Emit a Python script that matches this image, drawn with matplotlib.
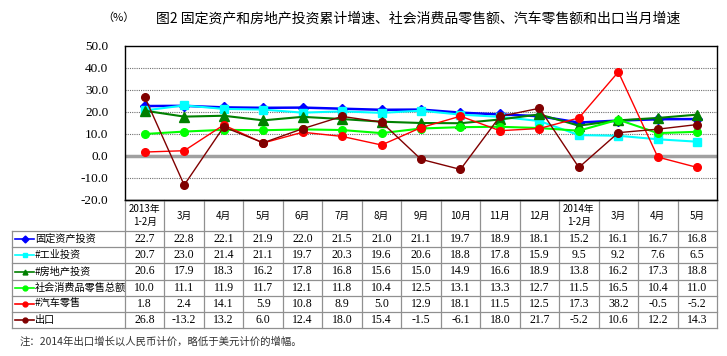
import numpy as np
import matplotlib.pyplot as plt

plt.rcParams['font.family'] = ['Noto Sans CJK SC', 'DejaVu Sans']

months = ['2013年\n1-2月', '3月', '4月', '5月', '6月', '7月', '8月', '9月',
          '10月', '11月', '12月', '2014年\n1-2月', '3月', '4月', '5月']

fixed_asset = [22.7, 22.8, 22.1, 21.9, 22.0, 21.5, 21.0, 21.1, 19.7, 18.9, 18.1, 15.2, 16.1, 16.7, 16.8]
industry = [20.7, 23.0, 21.4, 21.1, 19.7, 20.3, 19.6, 20.6, 18.8, 17.8, 15.9, 9.5, 9.2, 7.6, 6.5]
real_estate = [20.6, 17.9, 18.3, 16.2, 17.8, 16.8, 15.6, 15.0, 14.9, 16.6, 18.9, 13.8, 16.2, 17.3, 18.8]
retail = [10.0, 11.1, 11.9, 11.7, 12.1, 11.8, 10.4, 12.5, 13.1, 13.3, 12.7, 11.5, 16.5, 10.4, 11.0]
auto = [1.8, 2.4, 14.1, 5.9, 10.8, 8.9, 5.0, 12.9, 18.1, 11.5, 12.5, 17.3, 38.2, -0.5, -5.2]
export = [26.8, -13.2, 13.2, 6.0, 12.4, 18.0, 15.4, -1.5, -6.1, 18.0, 21.7, -5.2, 10.6, 12.2, 14.3]

series = [
    ('固定资产投资', fixed_asset, '#0000FF', 'D', 1.8, 5),
    ('#工业投资', industry, '#00FFFF', 's', 1.5, 6),
    ('#房地产投资', real_estate, '#008000', '^', 1.5, 7),
    ('社会消费品零售总额', retail, '#00FF00', 'o', 1.5, 5.5),
    ('#汽车零售', auto, '#FF0000', 'o', 1.0, 5.5),
    ('出口', export, '#800000', 'o', 1.0, 5.5),
]

W, H = 727, 356
fig = plt.figure(figsize=(W / 100, H / 100), dpi=100)

x0, x1, ytop, ybot = 125, 717, 46, 200
ax = fig.add_axes([x0 / W, 1 - ybot / H, (x1 - x0) / W, (ybot - ytop) / H])
idx = np.arange(len(months))
for name, vals, col, mk, lw, ms in series:
    ax.plot(idx, vals, color=col, lw=lw, marker=mk, ms=ms, markeredgecolor=col)
ax.set_xlim(-0.5, len(months) - 0.5)
ax.set_ylim(-20, 50)
ax.set_yticks(np.arange(-20, 51, 10))
ax.set_yticklabels(['%.1f' % v for v in np.arange(-20, 51, 10)],
                   family='Liberation Serif', fontsize=9.5)
ax.set_xticks([])
ax.tick_params(axis='y', length=0, pad=12)
for v in range(-10, 50, 10):
    if v:
        ax.axhline(v, color='#707070', lw=0.8, ls=(0, (1, 1)), zorder=0)
    else:
        ax.axhline(v, color='#A0A0A0', lw=2.5, zorder=0)
for s in ax.spines.values():
    s.set_color('black')
    s.set_linewidth(1.0)

# overlay in pixel coordinates for the table and titles
ov = fig.add_axes([0, 0, 1, 1])
ov.set_xlim(0, W)
ov.set_ylim(H, 0)
ov.axis('off')

ov.text(118, 18, '（%）', ha='center', va='center', fontsize=8)
ov.text(418, 18, '图2 固定资产和房地产投资累计增速、社会消费品零售额、汽车零售额和出口当月增速',
        ha='center', va='center', fontsize=10)

cw = (x1 - x0) / len(months)
hdr_bot = 231
rh = 16.2
tab_bot = hdr_bot + rh * len(series)
gc = '#909090'
for i, m in enumerate(months):
    ov.text(x0 + cw * (i + 0.5), (ybot + hdr_bot) / 2, m, ha='center', va='center',
            fontsize=7, linespacing=1.3)
for i in range(len(months) + 1):
    ov.plot([x0 + cw * i] * 2, [ybot, tab_bot], color=gc, lw=0.9)
ov.plot([12, 12], [hdr_bot, tab_bot], color=gc, lw=0.9)
ov.plot([x0, x1], [ybot, ybot], color='black', lw=1.0)
for r in range(len(series) + 1):
    ov.plot([12, x1], [hdr_bot + rh * r] * 2, color=gc, lw=0.9)

for r, (name, vals, col, mk, lw, ms) in enumerate(series):
    yc = hdr_bot + rh * (r + 0.5)
    ov.plot([15, 34], [yc, yc], color=col, lw=1.2)
    ov.plot([24.5], [yc], marker=mk, color=col, ms=3.5)
    ov.text(35, yc, name, ha='left', va='center', fontsize=7.3)
    for i, v in enumerate(vals):
        ov.text(x0 + cw * (i + 0.5), yc, '%.1f' % v, ha='center', va='center',
                fontsize=8.5, family='Liberation Serif')

ov.text(20, 342, '注：2014年出口增长以人民币计价，略低于美元计价的增幅。',
        ha='left', va='center', fontsize=7.5, color='#333333')

fig.savefig('out.png', dpi=100)
